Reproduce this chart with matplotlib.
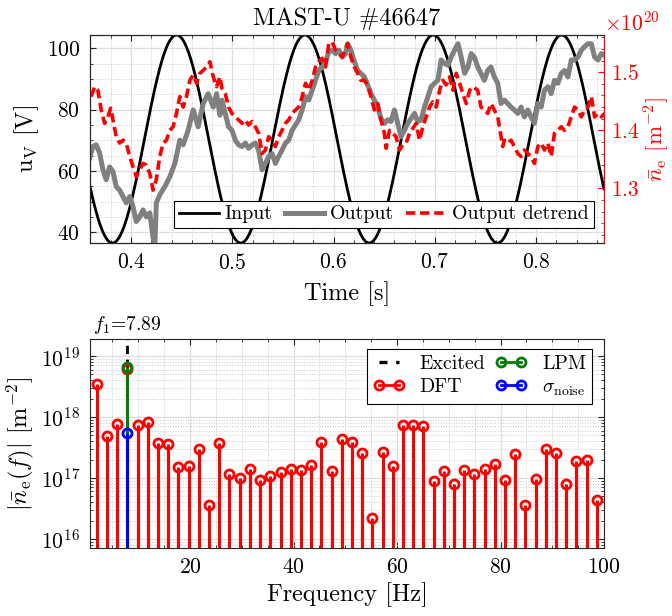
import numpy as np
import matplotlib
matplotlib.use("Agg")
import matplotlib.pyplot as plt
from matplotlib.lines import Line2D
from matplotlib.ticker import MultipleLocator, LogLocator, NullFormatter

plt.rcParams["font.family"] = ["cmr10", "DejaVu Serif"]
plt.rcParams["mathtext.fontset"] = "cm"
plt.rcParams["axes.formatter.use_mathtext"] = True

# excitation
f1 = 7.89
u_offset = 70.4
u_amp = 33.9
t_peak = 0.445

# measured line-integrated density [1e20 m^-2]
t_out = [0.3591, 0.3624, 0.3656, 0.3690, 0.3723, 0.3755, 0.3789, 0.3822, 0.3854, 0.3888,
         0.3921, 0.3953, 0.3987, 0.4020, 0.4052, 0.4086, 0.4119, 0.4151, 0.4185, 0.4218,
         0.4235, 0.4250, 0.4284, 0.4334, 0.4383, 0.4433, 0.4482, 0.4515, 0.4564, 0.4614,
         0.4663, 0.4713, 0.4762, 0.4812, 0.4845, 0.4878,
         0.4898, 0.4931, 0.4963, 0.4997, 0.5030, 0.5062, 0.5096, 0.5129, 0.5161, 0.5195,
         0.5228, 0.5260, 0.5294, 0.5327, 0.5359, 0.5393, 0.5426, 0.5458, 0.5492, 0.5525,
         0.5557, 0.5591, 0.5624, 0.5656, 0.5690, 0.5723, 0.5755, 0.5789, 0.5822, 0.5854,
         0.5888, 0.5921, 0.5953, 0.5987, 0.6020, 0.6052, 0.6086, 0.6119,
         0.6139, 0.6171, 0.6205, 0.6238, 0.6270, 0.6304, 0.6337, 0.6369, 0.6403, 0.6436,
         0.6468, 0.6502, 0.6535, 0.6567, 0.6601, 0.6634, 0.6666, 0.6700, 0.6733, 0.6765,
         0.6799, 0.6832, 0.6864, 0.6898, 0.6931, 0.6963, 0.6997, 0.7030, 0.7062, 0.7096,
         0.7129, 0.7161, 0.7195, 0.7228, 0.7260, 0.7294, 0.7327, 0.7359,
         0.7389, 0.7423, 0.7455, 0.7488, 0.7522, 0.7554, 0.7587, 0.7621, 0.7653, 0.7686,
         0.7720, 0.7752, 0.7785, 0.7819, 0.7851, 0.7884, 0.7918, 0.7950, 0.7983, 0.8017,
         0.8050, 0.8082, 0.8116, 0.8149, 0.8181, 0.8215, 0.8248, 0.8280, 0.8314, 0.8347,
         0.8379, 0.8413, 0.8446, 0.8478, 0.8512, 0.8545, 0.8577, 0.8611, 0.8644, 0.8676]
ne_out = [1.352, 1.372, 1.375, 1.361, 1.332, 1.315, 1.337, 1.329, 1.303, 1.297,
          1.286, 1.275, 1.286, 1.269, 1.243, 1.251, 1.263, 1.251, 1.258, 1.215,
          1.200, 1.275, 1.289, 1.303, 1.320, 1.343, 1.383, 1.375, 1.400, 1.435,
          1.406, 1.446, 1.463, 1.440, 1.463, 1.426,
          1.452, 1.429, 1.406, 1.400, 1.383, 1.375, 1.372, 1.378, 1.369, 1.375,
          1.378, 1.366, 1.332, 1.343, 1.355, 1.360, 1.343, 1.355, 1.366, 1.378,
          1.383, 1.400, 1.409, 1.418, 1.435, 1.458, 1.452, 1.469, 1.486, 1.503,
          1.509, 1.518, 1.535, 1.538, 1.532, 1.538, 1.526, 1.532,
          1.549, 1.538, 1.518, 1.503, 1.498, 1.492, 1.478, 1.463, 1.452, 1.440,
          1.420, 1.412, 1.418, 1.415, 1.435, 1.412, 1.389, 1.400, 1.412, 1.420,
          1.429, 1.415, 1.418, 1.440, 1.458, 1.475, 1.481, 1.486, 1.521, 1.515,
          1.512, 1.526, 1.538, 1.549, 1.526, 1.498, 1.509, 1.532,
          1.526, 1.509, 1.498, 1.486, 1.503, 1.509, 1.492, 1.481, 1.446, 1.452,
          1.446, 1.440, 1.435, 1.429, 1.440, 1.423, 1.435, 1.423, 1.412, 1.446,
          1.440, 1.469, 1.475, 1.463, 1.486, 1.481, 1.498, 1.503, 1.492, 1.521,
          1.521, 1.526, 1.538, 1.544, 1.549, 1.549, 1.526, 1.521, 1.532, 1.529]

t_det = [0.3607, 0.3641, 0.3673, 0.3706, 0.3740, 0.3772, 0.3799, 0.3822, 0.3854, 0.3888,
         0.3921, 0.3953, 0.3987, 0.4020, 0.4052, 0.4086, 0.4119, 0.4151, 0.4185, 0.4218,
         0.4250, 0.4284, 0.4317, 0.4350, 0.4383, 0.4416, 0.4449, 0.4482, 0.4515, 0.4548,
         0.4581, 0.4614, 0.4647, 0.4680, 0.4713, 0.4746, 0.4779, 0.4812, 0.4845, 0.4878,
         0.4898, 0.4931, 0.4963, 0.4997, 0.5030, 0.5062, 0.5096, 0.5129, 0.5161, 0.5195,
         0.5228, 0.5260, 0.5294, 0.5327, 0.5359, 0.5393, 0.5426, 0.5458, 0.5492, 0.5525,
         0.5557, 0.5591, 0.5624, 0.5656, 0.5690, 0.5723, 0.5755, 0.5789, 0.5822, 0.5854,
         0.5888, 0.5921, 0.5953, 0.5987, 0.6020, 0.6052, 0.6086, 0.6119,
         0.6139, 0.6171, 0.6205, 0.6238, 0.6270, 0.6304, 0.6337, 0.6369, 0.6403, 0.6436,
         0.6468, 0.6502, 0.6518, 0.6552, 0.6584, 0.6617, 0.6651, 0.6683, 0.6716, 0.6750,
         0.6782, 0.6815, 0.6849, 0.6881, 0.6914, 0.6948, 0.6980, 0.7013, 0.7047, 0.7079,
         0.7112, 0.7146, 0.7178, 0.7211, 0.7245, 0.7277, 0.7310, 0.7344, 0.7376,
         0.7423, 0.7455, 0.7488, 0.7522, 0.7554, 0.7587, 0.7621, 0.7653, 0.7670, 0.7686,
         0.7720, 0.7752, 0.7785, 0.7819, 0.7851, 0.7884, 0.7918, 0.7950, 0.7983, 0.8017,
         0.8050, 0.8082, 0.8116, 0.8149, 0.8181, 0.8215, 0.8248, 0.8280, 0.8314, 0.8347,
         0.8379, 0.8413, 0.8446, 0.8478, 0.8512, 0.8545, 0.8577, 0.8611, 0.8644, 0.8676]
ne_det = [1.458, 1.475, 1.469, 1.435, 1.412, 1.423, 1.438, 1.418, 1.389, 1.378,
          1.383, 1.378, 1.355, 1.337, 1.320, 1.332, 1.343, 1.340, 1.326, 1.297,
          1.315, 1.355, 1.378, 1.383, 1.400, 1.406, 1.429, 1.458, 1.440, 1.458,
          1.486, 1.495, 1.481, 1.498, 1.503, 1.509, 1.518, 1.492, 1.475, 1.492,
          1.472, 1.463, 1.440, 1.429, 1.423, 1.418, 1.412, 1.418, 1.409, 1.415,
          1.406, 1.395, 1.360, 1.366, 1.389, 1.383, 1.372, 1.389, 1.400, 1.412,
          1.418, 1.429, 1.435, 1.440, 1.458, 1.481, 1.469, 1.486, 1.509, 1.518,
          1.524, 1.509, 1.549, 1.552, 1.538, 1.532, 1.526, 1.541,
          1.549, 1.526, 1.509, 1.498, 1.486, 1.486, 1.478, 1.458, 1.435, 1.446,
          1.418, 1.395, 1.369, 1.400, 1.395, 1.389, 1.366, 1.375, 1.378, 1.395,
          1.403, 1.412, 1.383, 1.406, 1.423, 1.440, 1.449, 1.440, 1.469, 1.486,
          1.478, 1.492, 1.469, 1.498, 1.481, 1.463, 1.446, 1.469, 1.475,
          1.469, 1.440, 1.435, 1.429, 1.446, 1.435, 1.423, 1.389, 1.372, 1.383,
          1.378, 1.383, 1.372, 1.360, 1.355, 1.366, 1.360, 1.355, 1.343, 1.372,
          1.378, 1.366, 1.378, 1.355, 1.395, 1.400, 1.406, 1.400, 1.406, 1.423,
          1.440, 1.435, 1.423, 1.435, 1.440, 1.458, 1.423, 1.429, 1.423, 1.429]
ne_scale = 1e20

# spectrum at the DFT bins (bin spacing f1/4)
dft = [3.48e18, 4.89e17, 7.67e17, 6.03e18, 7.40e17, 8.28e17, 3.71e17, 3.56e17, 1.50e17, 1.59e17,
       2.99e17, 3.61e16, 3.79e17, 1.16e17, 1.01e17, 1.42e17, 9.20e16, 1.08e17, 1.25e17, 1.39e17,
       1.35e17, 1.63e17, 3.85e17, 1.32e17, 4.41e17, 3.94e17, 2.60e17, 2.18e16, 2.70e17, 1.59e17,
       7.40e17, 7.40e17, 7.11e17, 9.04e16, 1.30e17, 7.87e16, 1.34e17, 1.14e17, 1.39e17, 1.72e17,
       9.27e16, 2.44e17, 3.65e16, 9.75e16, 2.95e17, 2.54e17, 7.98e16, 1.92e17, 2.00e17, 4.36e16]
lpm_f1 = 6.7e18
sigma_f1 = 5.55e17

freqs = f1 / 4 * np.arange(1, len(dft) + 1)

fs_tick = 15.5
fs_lab = 17.5
fs_leg = 14.3
box = "0.15"

fig = plt.figure(figsize=(6.72, 6.16), dpi=100)

# --- time traces ---
ax = fig.add_axes([0.1339, 0.6055, 0.7649, 0.3377])
ax2 = ax.twinx()

t_in = np.linspace(0.3595, 0.867, 1000)
u_in = u_offset + u_amp * np.cos(2 * np.pi * f1 * (t_in - t_peak))
l_in, = ax.plot(t_in, u_in, color="k", lw=2.0)

l_out, = ax2.plot(t_out, np.array(ne_out) * ne_scale, color="0.5", lw=3.6)
l_det, = ax2.plot(t_det, np.array(ne_det) * ne_scale, color="r", lw=2.6,
                  dashes=(2.6, 1.3))

ax.set_xlim(0.3595, 0.867)
ax.set_ylim(u_offset - u_amp, u_offset + u_amp)
ax2.set_ylim(1.206 * ne_scale, 1.564 * ne_scale)

ax.xaxis.set_major_locator(MultipleLocator(0.1))
ax.xaxis.set_minor_locator(MultipleLocator(0.02))
ax.yaxis.set_major_locator(MultipleLocator(20))
ax.yaxis.set_minor_locator(MultipleLocator(5))
ax2.yaxis.set_major_locator(MultipleLocator(0.1 * ne_scale))
ax2.yaxis.set_minor_locator(MultipleLocator(0.02 * ne_scale))

ax.grid(True, which="major", color="0.87", lw=0.9)
ax.grid(True, which="minor", color="0.8", lw=0.7, ls=":")
ax.set_axisbelow(True)

ax.tick_params(which="both", direction="in", top=True, right=False,
               labelsize=fs_tick, color=box, pad=7)
ax.tick_params(which="major", length=4)
ax.tick_params(which="minor", length=2.2)
ax2.tick_params(which="both", direction="in", colors="r", labelsize=fs_tick, pad=5)
ax2.tick_params(which="major", length=4)
ax2.tick_params(which="minor", length=2.2)
off = ax2.yaxis.get_offset_text()
off.set_color("r")
off.set_fontsize(fs_tick)
off.set_horizontalalignment("left")
for s in ["left", "top", "bottom"]:
    ax2.spines[s].set_color(box)
ax2.spines["right"].set_color("r")

ax.set_xlabel("Time [s]", fontsize=fs_lab)
ax.xaxis.set_label_coords(0.5, -0.185)
ax.set_ylabel(r"$\mathrm{u_V}$ [V]", fontsize=fs_lab)
ax.yaxis.set_label_coords(-0.095, 0.5)
ax2.set_ylabel(r"$\bar{n}_\mathrm{e}$ [m$^{-2}$]", fontsize=16.5, color="r")
ax2.yaxis.set_label_coords(1.073, 0.5)
ax.set_title("MAST-U #46647", fontsize=fs_lab, pad=7)

leg = ax2.legend([l_in, l_out, l_det], ["Input", "Output", "Output detrend"],
                 loc="lower right", bbox_to_anchor=(0.98, 0.07), ncol=3,
                 fontsize=fs_leg, fancybox=False, framealpha=1, edgecolor="k",
                 handlelength=2.0, handletextpad=0.3, columnspacing=0.6,
                 borderpad=0.25, borderaxespad=0)
leg.get_frame().set_linewidth(0.8)

# --- spectrum ---
bx = fig.add_axes([0.1339, 0.1104, 0.7649, 0.3393])
bx.set_yscale("log")

bx.axvline(f1, color="k", ls="--", lw=2.0, dashes=(3, 2), zorder=2)

mk = dict(ms=6.5, mew=2.0, mfc="none")
st = bx.stem(freqs, dft, linefmt="r-", markerfmt="o", basefmt=" ", bottom=1e14)
st.stemlines.set_linewidth(2.2)
st.markerline.set(color="r", zorder=3, **mk)
st = bx.stem([f1], [lpm_f1], linefmt="-", markerfmt="o", basefmt=" ", bottom=1e14)
st.stemlines.set(color="g", linewidth=2.2, zorder=4)
st.markerline.set(color="g", zorder=4, **mk)
st = bx.stem([f1], [sigma_f1], linefmt="-", markerfmt="o", basefmt=" ", bottom=1e14)
st.stemlines.set(color="b", linewidth=2.2, zorder=5)
st.markerline.set(color="b", zorder=5, **mk)

bx.set_xlim(0.65, 100)
bx.set_ylim(10 ** 15.85, 10 ** 19.28)
bx.xaxis.set_major_locator(MultipleLocator(20))
bx.xaxis.set_minor_locator(MultipleLocator(5))
bx.yaxis.set_major_locator(LogLocator(base=10, numticks=10))
bx.yaxis.set_minor_locator(LogLocator(base=10, subs=np.arange(2, 10), numticks=20))
bx.yaxis.set_minor_formatter(NullFormatter())

bx.grid(True, which="major", color="0.87", lw=0.9)
bx.grid(True, which="minor", color="0.8", lw=0.7, ls=":")
bx.set_axisbelow(True)
bx.tick_params(which="both", direction="in", top=True, right=True,
               labelsize=fs_tick, color=box, pad=7)
bx.tick_params(which="major", length=4)
bx.tick_params(which="minor", length=2.2)
for s in bx.spines.values():
    s.set_color(box)

bx.set_xlabel("Frequency [Hz]", fontsize=fs_lab)
bx.xaxis.set_label_coords(0.5, -0.165)
bx.set_ylabel(r"$|\bar{n}_\mathrm{e}(f)|$ [m$^{-2}$]", fontsize=fs_lab)
bx.yaxis.set_label_coords(-0.105, 0.5)
bx.text(f1, 10 ** 19.33, r"$f_1$=7.89", ha="center", va="bottom", fontsize=14)

h_exc = Line2D([], [], color="k", lw=2.4, dashes=(2.4, 2.6))
h_dft = Line2D([], [], color="r", lw=2.0, marker="o", markevery=[1], **mk)
h_lpm = Line2D([], [], color="g", lw=2.0, marker="o", markevery=[1], **mk)
h_sig = Line2D([], [], color="b", lw=2.0, marker="o", markevery=[1], **mk)
leg2 = bx.legend([h_exc, h_dft, h_lpm, h_sig],
                 ["Excited", "DFT", "LPM", r"$\sigma_\mathrm{noise}$"],
                 loc="upper right", bbox_to_anchor=(0.977, 0.95), ncol=2,
                 numpoints=2, fontsize=fs_leg, fancybox=False, framealpha=1,
                 edgecolor="k", handlelength=1.6, handletextpad=0.75,
                 columnspacing=0.5, borderpad=0.3, labelspacing=0.25,
                 borderaxespad=0)
leg2.get_frame().set_linewidth(0.8)

fig.savefig("out.png", dpi=100)
